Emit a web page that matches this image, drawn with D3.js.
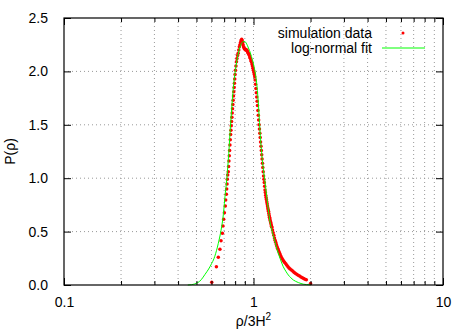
<!DOCTYPE html>
<html>
<head>
<meta charset="utf-8">
<script src="https://cdn.jsdelivr.net/npm/d3@7"></script>
<style>
  body { margin: 0; background: #fff; }
  svg { font-family: "Liberation Sans", Arial, sans-serif; }
  .tick line { stroke: #000; }
  .grid line { stroke: #999; stroke-dasharray: 1,3; }
</style>
</head>
<body>
<svg id="chart" width="471" height="330"></svg>
<script>
// simulation data (red points)
var simX = [0.602, 0.637, 0.652, 0.665, 0.674, 0.685, 0.690, 0.696, 0.702, 0.710,
  0.713, 0.719, 0.722, 0.725, 0.727, 0.731, 0.736, 0.739, 0.742, 0.745,
  0.748, 0.751, 0.754, 0.757, 0.760, 0.763, 0.766, 0.769, 0.772, 0.775,
  0.778, 0.781, 0.784, 0.787, 0.790, 0.793, 0.796, 0.799, 0.803, 0.808,
  0.813, 0.818, 0.824, 0.830, 0.836, 0.842, 0.848, 0.854, 0.860, 0.866,
  0.871, 0.876, 0.881, 0.886, 0.891, 0.897, 0.903, 0.909, 0.915, 0.921,
  0.927, 0.933, 0.939, 0.945, 0.951, 0.957, 0.963, 0.969, 0.975, 0.981,
  0.987, 0.993, 0.999, 1.005, 1.010, 1.015, 1.020, 1.025, 1.030, 1.035,
  1.040, 1.045, 1.050, 1.055, 1.060, 1.065, 1.070, 1.075, 1.080, 1.085,
  1.090, 1.095, 1.100, 1.105, 1.110, 1.115, 1.120, 1.125, 1.130, 1.135,
  1.140, 1.145, 1.150, 1.155, 1.160, 1.165, 1.170, 1.175, 1.180, 1.185,
  1.190, 1.195, 1.200, 1.205, 1.210, 1.215, 1.220, 1.225, 1.230, 1.235,
  1.240, 1.245, 1.250, 1.260, 1.270, 1.280, 1.290, 1.300, 1.310, 1.320,
  1.330, 1.340, 1.350, 1.360, 1.370, 1.380, 1.390, 1.400, 1.415, 1.430,
  1.445, 1.460, 1.480, 1.500, 1.520, 1.540, 1.560, 1.585, 1.610, 1.635,
  1.660, 1.690, 1.720, 1.750, 1.780, 1.810, 1.840, 1.870, 1.900, 2.000];
var simP = [0.025, 0.171, 0.259, 0.334, 0.415, 0.484, 0.552, 0.615, 0.677, 0.740,
  0.796, 0.849, 0.899, 0.946, 0.989, 1.030, 1.061, 1.11, 1.16, 1.21,
  1.26, 1.31, 1.36, 1.41, 1.45, 1.49, 1.53, 1.57, 1.61, 1.65,
  1.69, 1.73, 1.77, 1.81, 1.85, 1.89, 1.93, 1.97, 2.01, 2.05,
  2.09, 2.12, 2.15, 2.17, 2.20, 2.23, 2.25, 2.27, 2.29, 2.30,
  2.29, 2.27, 2.25, 2.23, 2.22, 2.21, 2.21, 2.20, 2.20, 2.20,
  2.19, 2.18, 2.17, 2.16, 2.15, 2.13, 2.12, 2.10, 2.09, 2.07,
  2.05, 2.03, 2.01, 1.99, 1.97, 1.95, 1.92, 1.88, 1.84, 1.80,
  1.76, 1.72, 1.68, 1.635, 1.59, 1.545, 1.50, 1.46, 1.42, 1.38,
  1.34, 1.30, 1.26, 1.22, 1.18, 1.14, 1.10, 1.06, 1.02, 0.99,
  0.96, 0.925, 0.89, 0.865, 0.84, 0.82, 0.80, 0.78, 0.76, 0.74,
  0.72, 0.705, 0.69, 0.67, 0.65, 0.635, 0.62, 0.605, 0.59, 0.58,
  0.565, 0.55, 0.54, 0.515, 0.49, 0.465, 0.44, 0.42, 0.40, 0.38,
  0.36, 0.345, 0.33, 0.315, 0.30, 0.29, 0.275, 0.262, 0.248, 0.235,
  0.222, 0.21, 0.198, 0.185, 0.172, 0.16, 0.15, 0.14, 0.13, 0.12,
  0.11, 0.10, 0.092, 0.084, 0.076, 0.068, 0.061, 0.055, 0.05, 0.015];

// log-normal fit (green line)
var fitX = [0.45, 0.47, 0.49, 0.50, 0.52, 0.53, 0.555, 0.58, 0.602, 0.618,
  0.632, 0.645, 0.658, 0.669, 0.679, 0.689, 0.697, 0.707, 0.715, 0.722,
  0.731, 0.740, 0.748, 0.756, 0.765, 0.775, 0.786, 0.798, 0.810, 0.825,
  0.840, 0.855, 0.870, 0.885, 0.900, 0.915, 0.930, 0.945, 0.960, 0.975,
  0.990, 1.005, 1.018, 1.031, 1.045, 1.059, 1.073, 1.086, 1.100, 1.115,
  1.130, 1.146, 1.165, 1.185, 1.205, 1.222, 1.245, 1.272, 1.300, 1.326,
  1.350, 1.380, 1.410, 1.436, 1.480, 1.526, 1.575, 1.622, 1.670, 1.723,
  1.780, 1.830, 1.900, 2.000];
var fitP = [0.000, 0.003, 0.010, 0.016, 0.035, 0.050, 0.100, 0.150, 0.203, 0.245,
  0.297, 0.355, 0.421, 0.480, 0.546, 0.620, 0.702, 0.827, 0.910, 0.983,
  1.10, 1.23, 1.36, 1.49, 1.62, 1.76, 1.88, 1.98, 2.06, 2.14,
  2.20, 2.245, 2.27, 2.28, 2.28, 2.265, 2.24, 2.21, 2.18, 2.14,
  2.10, 2.05, 2.00, 1.94, 1.85, 1.72, 1.56, 1.40, 1.27, 1.16,
  1.07, 0.99, 0.88, 0.77, 0.67, 0.59, 0.525, 0.46, 0.40, 0.344,
  0.30, 0.25, 0.205, 0.171, 0.13, 0.094, 0.067, 0.047, 0.034, 0.023,
  0.014, 0.008, 0.004, 0.0015];

var xMajor = [0.1, 1, 10];
var xMinor = [0.2, 0.3, 0.4, 0.5, 0.6, 0.7, 0.8, 0.9, 2, 3, 4, 5, 6, 7, 8, 9];
var yTicks = [0, 0.5, 1, 1.5, 2, 2.5];
var legendLabels = ["simulation data", "log-normal fit"];

var svg = d3.select("#chart"),
    margin = {top: 18, right: 28, bottom: 45, left: 64},
    width = +svg.attr("width") - margin.left - margin.right,
    height = +svg.attr("height") - margin.top - margin.bottom,
    g = svg.append("g").attr("transform", "translate(" + margin.left + "," + margin.top + ")");

var x = d3.scaleLog().domain([0.1, 10]).range([0, width]);
var y = d3.scaleLinear().domain([0, 2.5]).range([height, 0]);

// grid
var grid = g.append("g").attr("class", "grid");
grid.selectAll("line.v")
    .data(xMajor.slice(1, -1).concat(xMinor))
    .enter().append("line")
    .attr("x1", function(d) { return x(d); })
    .attr("x2", function(d) { return x(d); })
    .attr("y1", 0).attr("y2", height);
grid.selectAll("line.h")
    .data(yTicks.slice(1, -1))
    .enter().append("line")
    .attr("x1", 0).attr("x2", width)
    .attr("y1", function(d) { return y(d); })
    .attr("y2", function(d) { return y(d); });

// simulation points
g.append("g")
    .selectAll("circle")
    .data(simX.map(function(d, i) { return [d, simP[i]]; }))
    .enter().append("circle")
    .attr("cx", function(d) { return x(d[0]); })
    .attr("cy", function(d) { return y(d[1]); })
    .attr("r", 1.75)
    .attr("fill", "#ff0000");

// fit line
var line = d3.line()
    .x(function(d) { return x(d[0]); })
    .y(function(d) { return y(d[1]); })
    .curve(d3.curveMonotoneX);
g.append("path")
    .datum(fitX.map(function(d, i) { return [d, fitP[i]]; }))
    .attr("d", line)
    .attr("fill", "none")
    .attr("stroke", "#00ff00")
    .attr("stroke-width", 1);

// axes (ticks point inwards, mirrored)
var fmtX = function(d) { return d3.format("")(d); };
g.append("g")
    .attr("transform", "translate(0," + height + ")")
    .call(d3.axisBottom(x).tickValues(xMajor).tickFormat(fmtX).tickSize(-7).tickPadding(12))
    .call(function(a) { a.select(".domain").remove(); });
g.append("g")
    .attr("transform", "translate(0," + height + ")")
    .call(d3.axisBottom(x).tickValues(xMinor).tickFormat("").tickSize(-4))
    .call(function(a) { a.select(".domain").remove(); });
g.append("g")
    .call(d3.axisTop(x).tickValues(xMajor).tickFormat("").tickSize(-7))
    .call(function(a) { a.select(".domain").remove(); });
g.append("g")
    .call(d3.axisTop(x).tickValues(xMinor).tickFormat("").tickSize(-4))
    .call(function(a) { a.select(".domain").remove(); });
g.append("g")
    .call(d3.axisLeft(y).tickValues(yTicks).tickFormat(d3.format(".1f")).tickSize(-7).tickPadding(16))
    .call(function(a) { a.select(".domain").remove(); });
g.append("g")
    .attr("transform", "translate(" + width + ",0)")
    .call(d3.axisRight(y).tickValues(yTicks).tickFormat("").tickSize(-7))
    .call(function(a) { a.select(".domain").remove(); });

g.selectAll(".tick text").attr("font-size", 14).attr("font-family", "Liberation Sans, Arial, sans-serif").attr("fill", "#000");

g.append("rect")
    .attr("width", width).attr("height", height)
    .attr("fill", "none").attr("stroke", "#000").attr("stroke-width", 1.2);

// axis labels
var xl = svg.append("text")
    .attr("x", margin.left + x(1))
    .attr("y", 326)
    .attr("text-anchor", "middle")
    .attr("font-size", 14);
xl.append("tspan").text("ρ/3H");
xl.append("tspan").attr("dy", -6).attr("font-size", 10).text("2");

svg.append("text")
    .attr("transform", "translate(15," + (margin.top + height / 2) + ") rotate(-90)")
    .attr("text-anchor", "middle")
    .attr("font-size", 14)
    .text("P(ρ)");

// legend
var legend = g.append("g")
    .attr("font-size", 14)
    .attr("text-anchor", "end")
    .selectAll("g")
    .data(legendLabels)
    .enter().append("g")
    .attr("transform", function(d, i) { return "translate(0," + (15 + i * 15) + ")"; });

legend.append("text")
    .attr("x", 308)
    .attr("dy", "0.35em")
    .text(function(d) { return d; });

legend.filter(function(d, i) { return i === 0; }).append("circle")
    .attr("cx", 339).attr("cy", 0).attr("r", 1.5).attr("fill", "#ff0000");
legend.filter(function(d, i) { return i === 1; }).append("line")
    .attr("x1", 318).attr("x2", 361).attr("y1", 0).attr("y2", 0)
    .attr("stroke", "#00ff00").attr("stroke-width", 1);
</script>
</body>
</html>
